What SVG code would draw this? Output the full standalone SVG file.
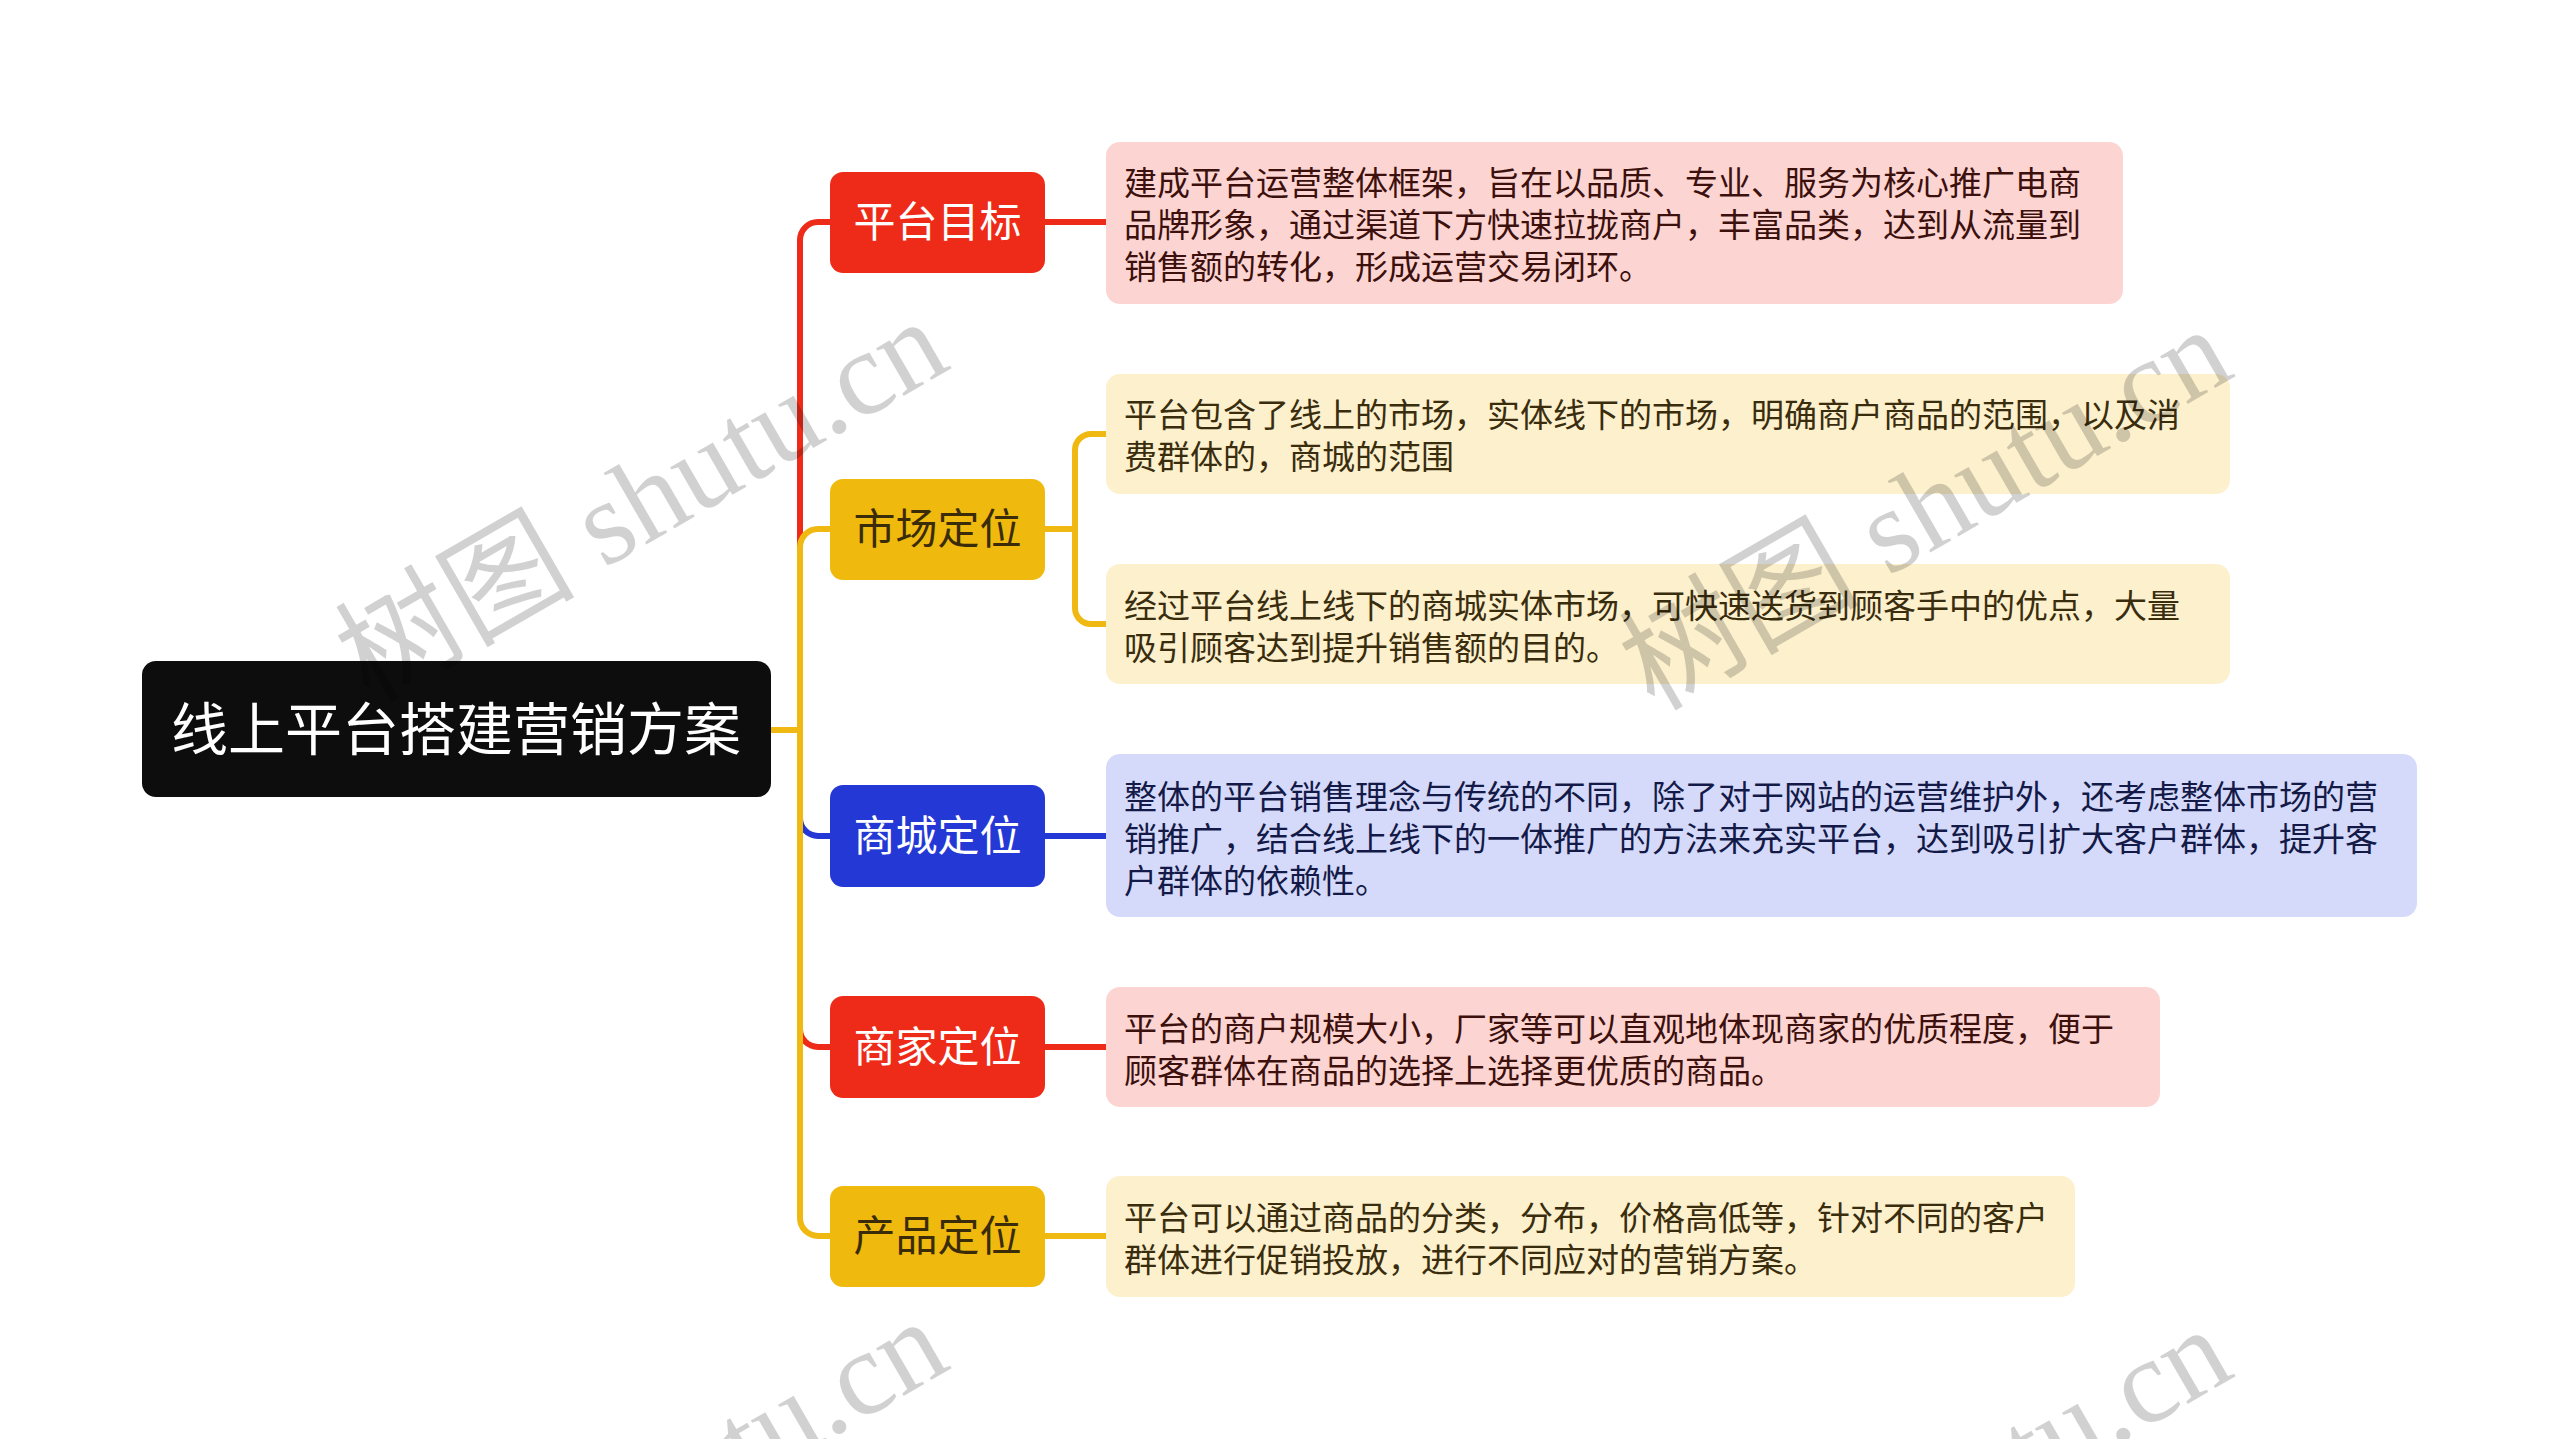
<svg xmlns="http://www.w3.org/2000/svg" width="2560" height="1439" viewBox="0 0 2560 1439">
<defs>
<style>
.cn{font-family:"Noto Sans CJK SC","Noto Sans",sans-serif;}
.root{fill:#0d0d0d;}
.roott{fill:#ffffff;font-size:57px;}
.red{fill:#ee2b19;}
.gold{fill:#f0b90e;}
.blue{fill:#2438d5;}
.wt{fill:#ffffff;font-size:42px;}
.dt{fill:#3a2c08;font-size:42px;}
.lf{font-size:33px;}
.lpink{fill:#fcd5d3;}
.lcream{fill:#fcf0cd;}
.lblue{fill:#d6dafa;}
.tpink{fill:#3c100c;}
.tcream{fill:#3a2d0e;}
.tblue{fill:#141a48;}
.c{fill:none;stroke-width:6;stroke-linecap:butt;stroke-linejoin:round;}
.cr{stroke:#ee2b19;}
.cg{stroke:#efb912;}
.cb{stroke:#2438d5;}
.wm{font-family:"Liberation Serif","Noto Sans CJK SC",serif;font-size:120px;fill:#000;fill-opacity:0.18;}
</style>
</defs>
<rect width="2560" height="1439" fill="#ffffff"/>

<g id="connectors">
<path class="c cr" d="M771 730 H800 V240 A18 18 0 0 1 818 222 H832"/>
<path class="c cb" d="M771 730 H800 V818 A18 18 0 0 0 818 836 H832"/>
<path class="c cr" d="M771 730 H800 V1029 A18 18 0 0 0 818 1047 H832"/>
<path class="c cg" d="M771 730 H800 V547 A18 18 0 0 1 818 529 H832"/>
<path class="c cg" d="M771 730 H800 V1218 A18 18 0 0 0 818 1236 H832"/>
<path class="c cr" d="M1044 222 H1108"/>
<path class="c cg" d="M1044 529 H1075 V450 A16 16 0 0 1 1091 434 H1108"/>
<path class="c cg" d="M1075 529 V608 A16 16 0 0 0 1091 624 H1108"/>
<path class="c cb" d="M1044 836 H1108"/>
<path class="c cr" d="M1044 1047 H1108"/>
<path class="c cg" d="M1044 1236 H1108"/>
</g>

<g id="root">
<rect class="root" x="142" y="661" width="629" height="136" rx="14"/>
<text class="cn roott" x="456" y="750" text-anchor="middle">线上平台搭建营销方案</text>
</g>

<g id="n1">
<rect class="red" x="830" y="172" width="215" height="101" rx="13"/>
<text class="cn wt" x="937.5" y="237" text-anchor="middle">平台目标</text>
</g>
<g id="n2">
<rect class="gold" x="830" y="479" width="215" height="101" rx="13"/>
<text class="cn dt" x="937.5" y="544" text-anchor="middle">市场定位</text>
</g>
<g id="n3">
<rect class="blue" x="830" y="785" width="215" height="102" rx="13"/>
<text class="cn wt" x="937.5" y="851" text-anchor="middle">商城定位</text>
</g>
<g id="n4">
<rect class="red" x="830" y="996" width="215" height="102" rx="13"/>
<text class="cn wt" x="937.5" y="1062" text-anchor="middle">商家定位</text>
</g>
<g id="n5">
<rect class="gold" x="830" y="1186" width="215" height="101" rx="13"/>
<text class="cn dt" x="937.5" y="1251" text-anchor="middle">产品定位</text>
</g>

<g id="l1">
<rect class="lpink" x="1106" y="142" width="1017" height="162" rx="14"/>
<text class="cn lf tpink"><tspan x="1124" y="195">建成平台运营整体框架，旨在以品质、专业、服务为核心推广电商</tspan><tspan x="1124" y="237">品牌形象，通过渠道下方快速拉拢商户，丰富品类，达到从流量到</tspan><tspan x="1124" y="279">销售额的转化，形成运营交易闭环。</tspan></text>
</g>
<g id="l2">
<rect class="lcream" x="1106" y="374" width="1124" height="120" rx="14"/>
<text class="cn lf tcream"><tspan x="1124" y="427">平台包含了线上的市场，实体线下的市场，明确商户商品的范围，以及消</tspan><tspan x="1124" y="469">费群体的，商城的范围</tspan></text>
</g>
<g id="l3">
<rect class="lcream" x="1106" y="564" width="1124" height="120" rx="14"/>
<text class="cn lf tcream"><tspan x="1124" y="618">经过平台线上线下的商城实体市场，可快速送货到顾客手中的优点，大量</tspan><tspan x="1124" y="660">吸引顾客达到提升销售额的目的。</tspan></text>
</g>
<g id="l4">
<rect class="lblue" x="1106" y="754" width="1311" height="163" rx="14"/>
<text class="cn lf tblue"><tspan x="1124" y="809">整体的平台销售理念与传统的不同，除了对于网站的运营维护外，还考虑整体市场的营</tspan><tspan x="1124" y="851">销推广，结合线上线下的一体推广的方法来充实平台，达到吸引扩大客户群体，提升客</tspan><tspan x="1124" y="893">户群体的依赖性。</tspan></text>
</g>
<g id="l5">
<rect class="lpink" x="1106" y="987" width="1054" height="120" rx="14"/>
<text class="cn lf tpink"><tspan x="1124" y="1041">平台的商户规模大小，厂家等可以直观地体现商家的优质程度，便于</tspan><tspan x="1124" y="1083">顾客群体在商品的选择上选择更优质的商品。</tspan></text>
</g>
<g id="l6">
<rect class="lcream" x="1106" y="1176" width="969" height="121" rx="14"/>
<text class="cn lf tcream"><tspan x="1124" y="1230">平台可以通过商品的分类，分布，价格高低等，针对不同的客户</tspan><tspan x="1124" y="1272">群体进行促销投放，进行不同应对的营销方案。</tspan></text>
</g>

<g id="watermark">
<text class="wm" transform="translate(370,704) rotate(-30)">树图 shutu.cn</text>
<text class="wm" transform="translate(1654,712) rotate(-30)">树图 shutu.cn</text>
<text class="wm" transform="translate(370,1704) rotate(-30)">树图 shutu.cn</text>
<text class="wm" transform="translate(1654,1712) rotate(-30)">树图 shutu.cn</text>
</g>
</svg>
